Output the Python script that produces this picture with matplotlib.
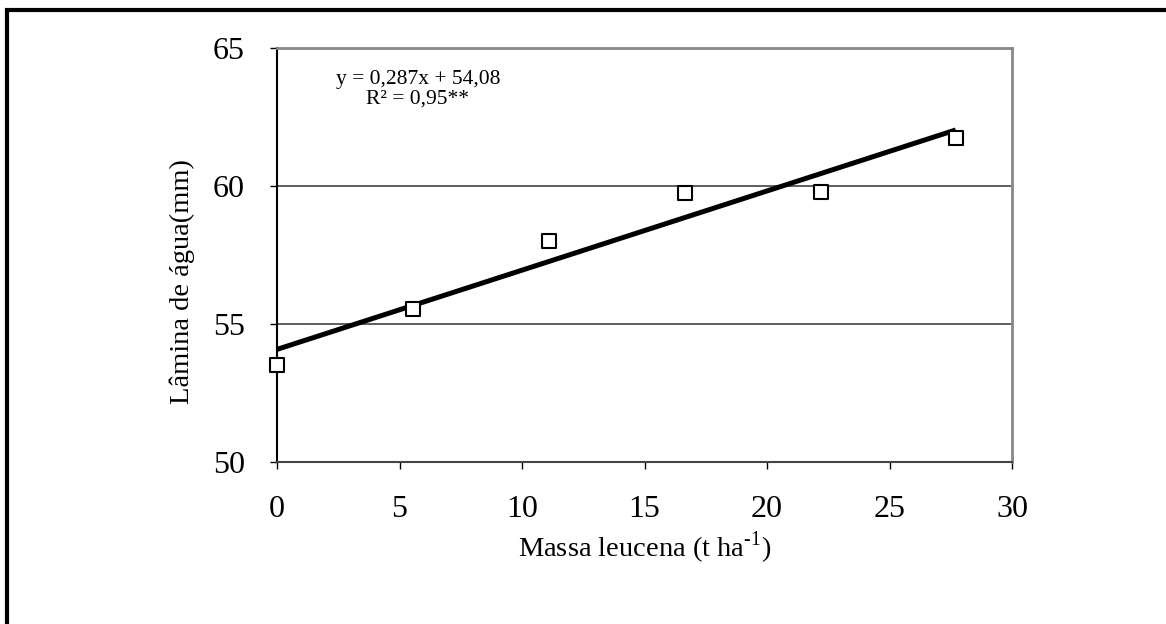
import matplotlib
matplotlib.use("Agg")
import matplotlib.pyplot as plt
import numpy as np
from matplotlib.patches import Rectangle

massa = [0, 5.55, 11.1, 16.65, 22.2, 27.7]
lamina = [53.5, 55.55, 58.0, 59.75, 59.8, 61.75]
slope = 0.287
intercept = 54.08
xticks = [0, 5, 10, 15, 20, 25, 30]
yticks = [50, 55, 60, 65]

plt.rcParams['font.family'] = ['Liberation Serif', 'DejaVu Serif']
plt.rcParams['mathtext.fontset'] = 'custom'
plt.rcParams['mathtext.rm'] = 'Liberation Serif'

W, H = 1166, 624
fig = plt.figure(figsize=(W/100, H/100), dpi=100)

# outer frame (extends past right/bottom edges)
fig.patches.append(Rectangle((7/W, -0.1), 1.2, (H-10)/H + 0.1, transform=fig.transFigure,
                             fill=False, edgecolor='black', linewidth=3, zorder=0))

ax = fig.add_axes([277/W, 1 - 462/H, (1012-277)/W, (462-48)/H])
ax.set_xlim(0, 30)
ax.set_ylim(50, 65)

xs = np.array([massa[0], massa[-1]])
ax.plot(xs, intercept + slope*xs, color='black', linewidth=3.6, solid_capstyle='butt', zorder=3)
ax.scatter(massa, lamina, marker='s', s=110, facecolor='white', edgecolor='black',
           linewidth=1.5, zorder=4, clip_on=False)

for y in [55, 60]:
    ax.axhline(y, color='#333333', linewidth=1.1, zorder=1)

ax.spines['left'].set_color('black')
ax.spines['bottom'].set_color('#444444')
ax.spines['top'].set_color('#888888')
ax.spines['right'].set_color('#888888')
for s in ['left', 'bottom']:
    ax.spines[s].set_linewidth(1.5)
for s in ['top', 'right']:
    ax.spines[s].set_linewidth(2)

ax.set_xticks(xticks)
ax.set_yticks(yticks)
ax.tick_params(axis='both', direction='out', length=5, width=1, labelsize=23)
ax.tick_params(axis='x', pad=19)
ax.tick_params(axis='y', pad=18)

ax.set_xlabel('Massa leucena (t ha$^{\\mathregular{\\text{-}1}}$)', fontsize=20.5, labelpad=4)
ax.set_ylabel('Lâmina de água(mm)', fontsize=20.5, labelpad=12)
ax.yaxis.set_label_coords(-0.112, (462-282)/414)

ax.text((418-277)/735, (462-89)/414, 'y = 0,287x + 54,08\nR² = 0,95**', transform=ax.transAxes,
        fontsize=15.5, va='center', ha='center', multialignment='center', linespacing=1.05)

fig.savefig('out.png', dpi=100)
